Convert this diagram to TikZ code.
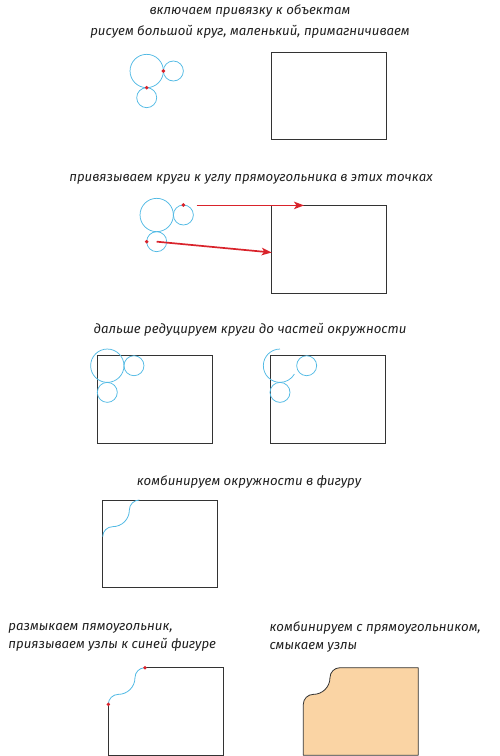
\documentclass[tikz,border=0pt]{standalone}
\usepackage{fontspec}
\setmainfont{Fira Sans}
\usetikzlibrary{arrows.meta}
\definecolor{cblue}{HTML}{52BAE4}
\definecolor{cred}{HTML}{D9232B}
\definecolor{cfill}{HTML}{FAD4A4}
\definecolor{cline}{HTML}{333333}
\begin{document}
\begin{tikzpicture}[x=1pt,y=-1pt,
  rectbox/.style={draw=cline, line width=0.8pt, minimum width=115pt, minimum height=87.5pt, inner sep=0pt, outer sep=0pt, anchor=north west},
  circ/.style={draw=cblue, line width=0.75pt},
  blueline/.style={draw=cblue, line width=0.8pt},
  blackline/.style={draw=cline, line width=0.8pt},
  shapefill/.style={fill=cfill, draw=cline, line width=0.8pt, line join=round},
  dot/.style={fill=cred, circle, inner sep=0pt, minimum size=3.8pt},
  redarrow/.style={draw=cred, line width=1.7pt, -{Stealth[length=10pt,width=7.5pt,inset=2.5pt]}},
  lbl/.style={font=\fontsize{13.2}{18}\selectfont\itshape, text=black!88, inner sep=0pt},
]
\useasboundingbox (0,0) rectangle (500,756);

% ---- section 1
\node[lbl] (t1) at (250,11) {включаем привязку к объектам};
\node[lbl] (t2) at (250,32) {рисуем большой круг, маленький, примагничиваем};
\draw[circ] (146.7,71) circle[radius=16.67];
\draw[circ] (173.37,71) circle[radius=10];
\draw[circ] (146.7,97.67) circle[radius=10];
\node[dot] (d1) at (163.37,71) {};
\node[dot] (d2) at (146.7,87.67) {};
\node[rectbox] (r1) at (271.7,52.3) {};

% ---- section 2
\node[lbl] (t3) at (251,179) {привязываем круги к углу прямоугольника в этих точках};
\draw[circ] (156.7,215) circle[radius=16.67];
\draw[circ] (183.37,215) circle[radius=10];
\draw[circ] (156.7,241.67) circle[radius=10];
\node[dot] (d3) at (183.37,205) {};
\node[dot] (d4) at (146.7,241.67) {};
\node[rectbox] (r2) at (271.7,205.7) {};
\coordinate (a1s) at (196.7,205.4);
\coordinate (a1e) at (304,205.4);
\coordinate (a2s) at (156.7,241.67);
\coordinate (a2e) at (r2.west |- 0,252.5);
\draw[redarrow] (a1s) -- (a1e);
\draw[redarrow] (a2s) -- (a2e);

% ---- section 3
\node[lbl] (t4) at (250,330) {дальше редуцируем круги до частей окружности};
\node[rectbox] (r3) at (97.3,355.7) {};
\draw[circ] (107.3,365.7) circle[radius=16.67];
\draw[circ] (133.97,365.7) circle[radius=10];
\draw[circ] (107.3,392.37) circle[radius=10];
\node[rectbox] (r4) at (270,355.7) {};
\draw[circ] (280,349.03) arc[start angle=270, end angle=30, radius=16.67];
\draw[circ] (306.67,365.7) circle[radius=10];
\draw[circ] (280,392.37) circle[radius=10];

% ---- section 4
\node[lbl] (t5) at (249,482) {комбинируем окружности в фигуру};
\node[rectbox] (r5) at (102.7,500) {};
\draw[blueline] (139.37,500) arc[start angle=270, end angle=180, radius=10]
  arc[start angle=0, end angle=90, radius=16.67]
  arc[start angle=270, end angle=180, radius=10];

% ---- section 5 left
\node[lbl, align=left, anchor=west] (t6) at (8.3,637) {размыкаем пямоугольник,\\приязываем узлы к синей фигуре};
\coordinate (p1) at (144.97,667.7);
\coordinate (p2) at (108.3,704.37);
\draw[blackline] (p1) -- (223.3,667.7) -- (223.3,755.2) -- (108.3,755.2) -- (p2);
\draw[blueline] (p1) arc[start angle=270, end angle=180, radius=10]
  arc[start angle=0, end angle=90, radius=16.67]
  arc[start angle=270, end angle=180, radius=10];
\node[dot] (d5) at (p1) {};
\node[dot] (d6) at (p2) {};

% ---- section 5 right
\node[lbl, align=left, anchor=west] (t7) at (269.3,637) {комбинируем с прямоугольником,\\смыкаем узлы};
\draw[shapefill] (339.97,667.7) arc[start angle=270, end angle=180, radius=10]
  arc[start angle=0, end angle=90, radius=16.67]
  arc[start angle=270, end angle=180, radius=10]
  -- (303.3,755.2) -- (418.3,755.2) -- (418.3,667.7) -- cycle;
\end{tikzpicture}
\end{document}
